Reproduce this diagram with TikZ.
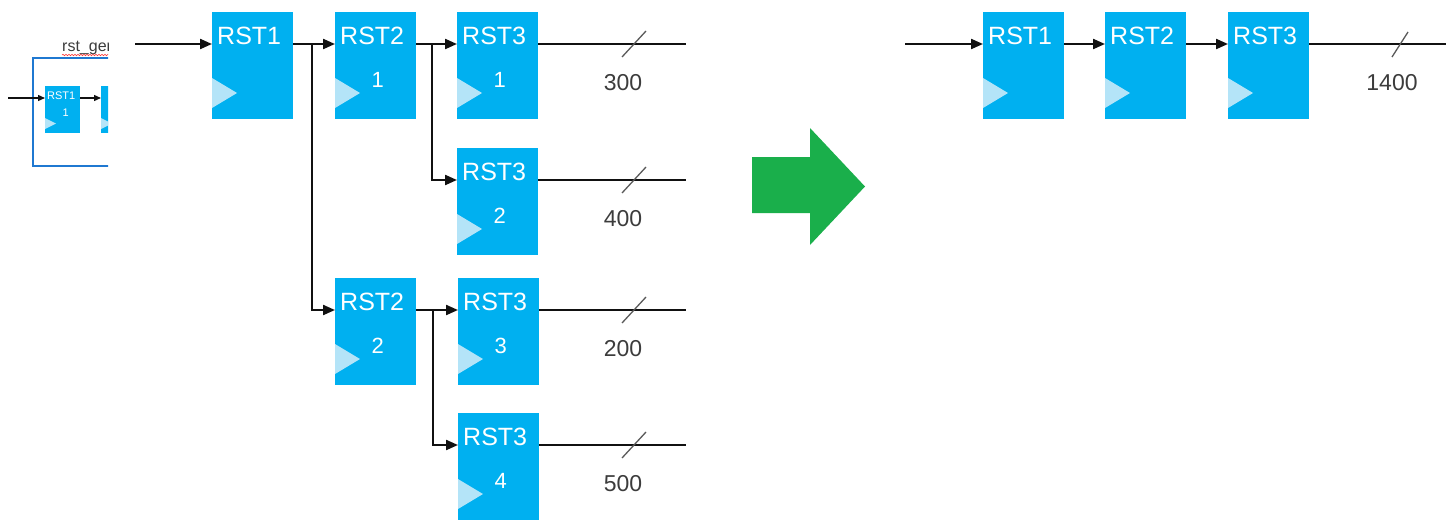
\documentclass[tikz,border=0pt]{standalone}
\usepackage{fontspec}
\setmainfont{Liberation Sans}
\usetikzlibrary{arrows.meta,calc,decorations.pathmorphing}

\definecolor{regfill}{HTML}{00B0F0}
\definecolor{clk}{HTML}{B4E4F8}
\definecolor{wire}{HTML}{111111}
\definecolor{buslbl}{HTML}{3C3C3C}
\definecolor{goarrow}{HTML}{1AAF4B}
\definecolor{frame}{HTML}{1F78D1}

% register: name, x, y (top-left), title, index
\newcommand\regbox[5]{%
  \node[reg] (#1) at (#2,#3) {};
  \fill[clk] (#1.north west) ++(0,66) -- ++(25,15) -- ++(-25,15) -- cycle;
  \node[regtitle] (#1-t) at ($(#1.north west)+(5,32)$) {#4};
  \node[regnum] (#1-n) at ($(#1.north)+(2,68)$) {#5};
  \coordinate (#1-in) at ($(#1.north west)+(0,32)$);
  \coordinate (#1-out) at ($(#1.north east)+(0,32)$);
}

\begin{document}
\begin{tikzpicture}[x=1pt,y=-1pt,
  reg/.style={fill=regfill, draw=none, minimum width=81pt, minimum height=107pt,
    inner sep=0pt, anchor=north west},
  minireg/.style={fill=regfill, draw=none, minimum width=35pt, minimum height=47pt,
    inner sep=0pt, anchor=north west},
  regtitle/.style={anchor=base west, inner sep=0pt, text=white,
    font=\fontsize{25}{25}\selectfont},
  regnum/.style={anchor=center, inner sep=0pt, text=white,
    font=\fontsize{22}{22}\selectfont},
  wire/.style={draw=wire, line width=2.2pt},
  arr/.style={wire, -{Triangle[length=12pt,width=10pt]}},
  slash/.style={draw=gray!70!black, line width=1.3pt},
  bus/.style={anchor=center, inner sep=0pt, text=buslbl,
    font=\fontsize{23}{23}\selectfont},
]
\useasboundingbox (0,0) rectangle (1446,522);

% ---- small instance view, cut off at its right edge
\begin{scope}
  \clip (0,0) rectangle (108,522);
  \node[anchor=base west, inner sep=0pt, text=buslbl,
    font=\fontsize{16}{16}\selectfont] (inst) at (62,51) {rst\_gen};
  \draw[red!80!white, line width=0.6pt, decorate,
    decoration={snake, amplitude=0.7pt, segment length=3pt}] (62,55) -- (110,55);
  \draw[frame, line width=2.5pt] (33,58) rectangle (150,166);
  \node[minireg] (m1) at (45,86) {};
  \fill[clk] (m1.north west) ++(0,32) -- ++(11,5.5) -- ++(-11,5.5) -- cycle;
  \node[anchor=base west, inner sep=0pt, text=white,
    font=\fontsize{11}{11}\selectfont] (m1-t) at ($(m1.north west)+(2,13)$) {RST1};
  \node[anchor=center, inner sep=0pt, text=white,
    font=\fontsize{11}{11}\selectfont] (m1-n) at ($(m1.north)+(3,27)$) {1};
  \node[minireg] (m2) at (101,86) {};
  \fill[clk] (m2.north west) ++(0,32) -- ++(11,5.5) -- ++(-11,5.5) -- cycle;
  \coordinate (msrc) at (8,98);
  \draw[draw=wire, line width=1.4pt, -{Triangle[length=7pt,width=6pt]}]
    (msrc) -- (m1.west |- msrc);
  \draw[draw=wire, line width=1.4pt, -{Triangle[length=7pt,width=6pt]}]
    (m1.east |- msrc) -- (m2.west |- msrc);
\end{scope}

% ---- reset tree before
\regbox{A}{212}{12}{RST1}{}
\regbox{B1}{335}{12}{RST2}{1}
\regbox{C1}{457}{12}{RST3}{1}
\regbox{C2}{457}{148}{RST3}{2}
\regbox{B2}{335}{278}{RST2}{2}
\regbox{C3}{458}{278}{RST3}{3}
\regbox{C4}{458}{413}{RST3}{4}

\coordinate (src) at (135,44);
\coordinate (j1) at (312,44);
\coordinate (j2) at (432,44);
\coordinate (j3) at (433,310);
\draw[arr] (src) -- (A-in);
\draw[arr] (A-out) -- (B1-in);
\draw[arr] (j1) |- (B2-in);
\draw[arr] (B1-out) -- (C1-in);
\draw[arr] (j2) |- (C2-in);
\draw[arr] (B2-out) -- (C3-in);
\draw[arr] (j3) |- (C4-in);

\foreach \c/\y/\n in {C1/44/300, C2/180/400, C3/310/200, C4/445/500}{
  \coordinate (\c-end) at (686,\y);
  \draw[wire] (\c-out) -- (\c-end);
  \draw[slash] (622,\y+13) -- (646,\y-13);
  \node[bus] (\c-w) at (623,\y+39) {\n};
}

% ---- transformation arrow
\fill[goarrow] (752,157) -- (810,157) -- (810,128) -- (865,186.5)
  -- (810,245) -- (810,213) -- (752,213) -- cycle;

% ---- single chain after
\regbox{R1}{983}{12}{RST1}{}
\regbox{R2}{1105}{12}{RST2}{}
\regbox{R3}{1228}{12}{RST3}{}
\coordinate (src2) at (905,44);
\coordinate (R-end) at (1446,44);
\draw[arr] (src2) -- (R1-in);
\draw[arr] (R1-out) -- (R2-in);
\draw[arr] (R2-out) -- (R3-in);
\draw[wire] (R3-out) -- (R-end);
\draw[slash] (1392,57) -- (1408,32);
\node[bus] (R-w) at (1392,83) {1400};
\end{tikzpicture}
\end{document}
